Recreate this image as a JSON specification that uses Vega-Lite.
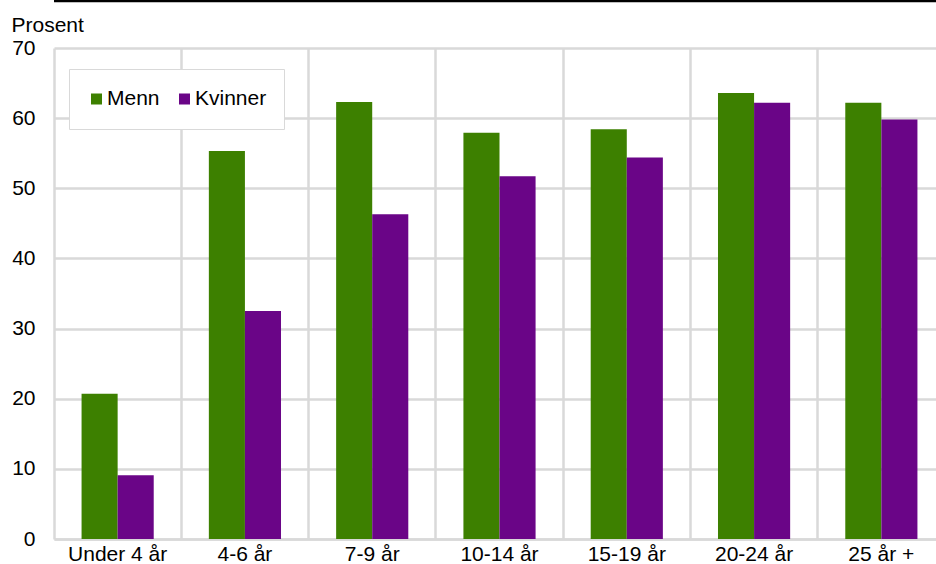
{
  "$schema": "https://vega.github.io/schema/vega-lite/v6.json",
  "width": 891,
  "height": 491,
  "autosize": {"type": "none"},
  "padding": {"left": 54, "top": 48, "right": 0, "bottom": 25},
  "background": "white",
  "config": {
    "view": {"stroke": null},
    "font": "Liberation Sans"
  },
  "layer": [
    {
      "data": {
        "values": [
          {"alder": "Under 4 år", "kjonn": "Menn", "prosent": 20.7},
          {"alder": "Under 4 år", "kjonn": "Kvinner", "prosent": 9.1},
          {"alder": "4-6 år", "kjonn": "Menn", "prosent": 55.3},
          {"alder": "4-6 år", "kjonn": "Kvinner", "prosent": 32.5},
          {"alder": "7-9 år", "kjonn": "Menn", "prosent": 62.3},
          {"alder": "7-9 år", "kjonn": "Kvinner", "prosent": 46.3},
          {"alder": "10-14 år", "kjonn": "Menn", "prosent": 57.9},
          {"alder": "10-14 år", "kjonn": "Kvinner", "prosent": 51.7},
          {"alder": "15-19 år", "kjonn": "Menn", "prosent": 58.4},
          {"alder": "15-19 år", "kjonn": "Kvinner", "prosent": 54.4},
          {"alder": "20-24 år", "kjonn": "Menn", "prosent": 63.6},
          {"alder": "20-24 år", "kjonn": "Kvinner", "prosent": 62.2},
          {"alder": "25 år +", "kjonn": "Menn", "prosent": 62.2},
          {"alder": "25 år +", "kjonn": "Kvinner", "prosent": 59.8}
        ]
      },
      "mark": {"type": "bar"},
      "encoding": {
        "x": {
          "field": "alder",
          "type": "nominal",
          "sort": null,
          "scale": {"paddingInner": 0, "paddingOuter": 0},
          "axis": {
            "title": null,
            "labelAngle": 0,
            "labelFontSize": 21,
            "labelColor": "#000000",
            "labelPadding": 4,
            "ticks": false,
            "domain": true,
            "domainColor": "#d9d9d9",
            "domainWidth": 2.5,
            "grid": true,
            "gridColor": "#d9d9d9",
            "gridWidth": 2.5,
            "bandPosition": 0
          }
        },
        "xOffset": {
          "field": "kjonn",
          "type": "nominal",
          "sort": ["Menn", "Kvinner"],
          "scale": {"paddingOuter": 0.764, "paddingInner": 0}
        },
        "y": {
          "field": "prosent",
          "type": "quantitative",
          "scale": {"domain": [0, 70], "nice": false},
          "axis": {
            "values": [0, 10, 20, 30, 40, 50, 60, 70],
            "title": "Prosent",
            "titleAngle": 0,
            "titleAlign": "left",
            "titleBaseline": "alphabetic",
            "titleX": -43,
            "titleY": -17,
            "titleFontSize": 21,
            "titleFontWeight": "normal",
            "titleColor": "#000000",
            "labelFontSize": 21,
            "labelColor": "#000000",
            "labelPadding": 19,
            "ticks": false,
            "domain": false,
            "grid": true,
            "gridColor": "#d9d9d9",
            "gridWidth": 2.5
          }
        },
        "color": {
          "field": "kjonn",
          "type": "nominal",
          "scale": {"domain": ["Menn", "Kvinner"], "range": ["#3d8000", "#6a0587"]},
          "legend": {
            "title": null,
            "orient": "none",
            "legendX": 15,
            "legendY": 21,
            "direction": "horizontal",
            "fillColor": "white",
            "strokeColor": "#d9d9d9",
            "padding": 17,
            "clipHeight": 26,
            "symbolType": "square",
            "symbolSize": 121,
            "symbolStrokeWidth": 0,
            "labelFontSize": 21,
            "labelColor": "#000000",
            "labelOffset": 0,
            "columnPadding": 14
          }
        }
      }
    },
    {
      "data": {"values": [{"topp": 76.7}]},
      "mark": {"type": "rule", "color": "#000000", "strokeWidth": 2.5},
      "encoding": {
        "y": {"field": "topp", "type": "quantitative"}
      }
    }
  ]
}
